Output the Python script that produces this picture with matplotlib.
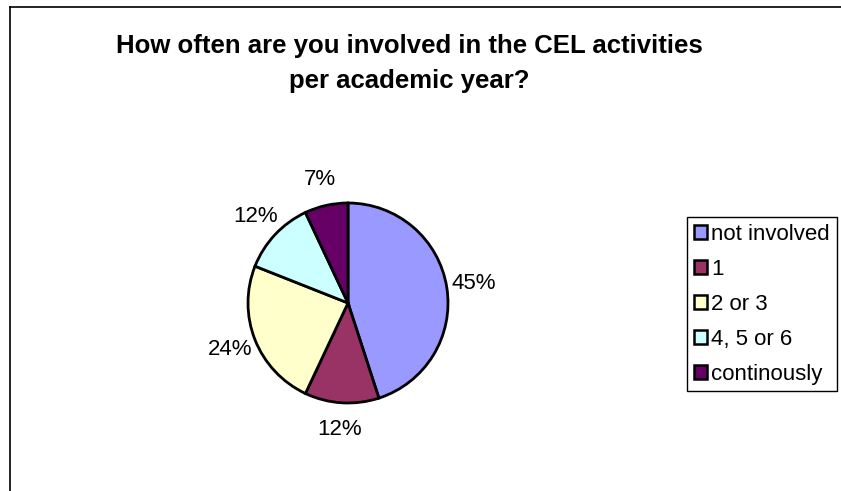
import matplotlib.pyplot as plt
from matplotlib.lines import Line2D
from matplotlib.patches import Patch

plt.rcParams['font.family'] = ['Liberation Sans', 'DejaVu Sans']

categories = ["not involved", "1", "2 or 3", "4, 5 or 6", "continously"]
shares = [45, 12, 24, 12, 7]
colors = ["#9999FF", "#993366", "#FFFFCC", "#CCFFFF", "#660066"]

W, H = 841, 491
fig = plt.figure(figsize=(W / 100, H / 100), dpi=100)

# chart border (top and left edges visible)
fig.add_artist(Line2D([10 / W, 1.0], [1 - 7 / H, 1 - 7 / H], color="black", lw=1.2))
fig.add_artist(Line2D([10 / W, 10 / W], [0, 1 - 7 / H], color="black", lw=1.2))

fig.text(409 / W, 1 - 46 / H, "How often are you involved in the CEL activities",
         ha="center", va="center", fontsize=18.5, fontweight="bold")
fig.text(409 / W, 1 - 81 / H, "per academic year?",
         ha="center", va="center", fontsize=18.5, fontweight="bold")

# pie centred at (348, 303) px, radius 100 px
cx, cy, r = 348, 303, 100
ax = fig.add_axes([(cx - r) / W, (H - cy - r) / H, 2 * r / W, 2 * r / H])
wedges, texts, autotexts = ax.pie(
    shares, colors=colors, startangle=90, counterclock=False,
    autopct=lambda p: "%d%%" % round(p), pctdistance=1.27,
    wedgeprops=dict(edgecolor="black", linewidth=2),
    textprops=dict(fontsize=16))
ax.set_xlim(-1, 1)
ax.set_ylim(-1, 1)
ax.set_aspect("equal")
ax.axis("off")

handles = [Patch(facecolor=c, edgecolor="black", linewidth=1.8) for c in colors]
leg = fig.legend(handles, categories, loc="upper left",
                 bbox_to_anchor=(687 / W, 1 - 217 / H),
                 frameon=True, fancybox=False, shadow=False, framealpha=1,
                 edgecolor="black", fontsize=16, handlelength=0.6,
                 handleheight=0.6, handletextpad=0.2, labelspacing=0.63,
                 borderpad=0.3, borderaxespad=0)
leg.get_frame().set_linewidth(1.0)

plt.savefig("out.png", dpi=100)
